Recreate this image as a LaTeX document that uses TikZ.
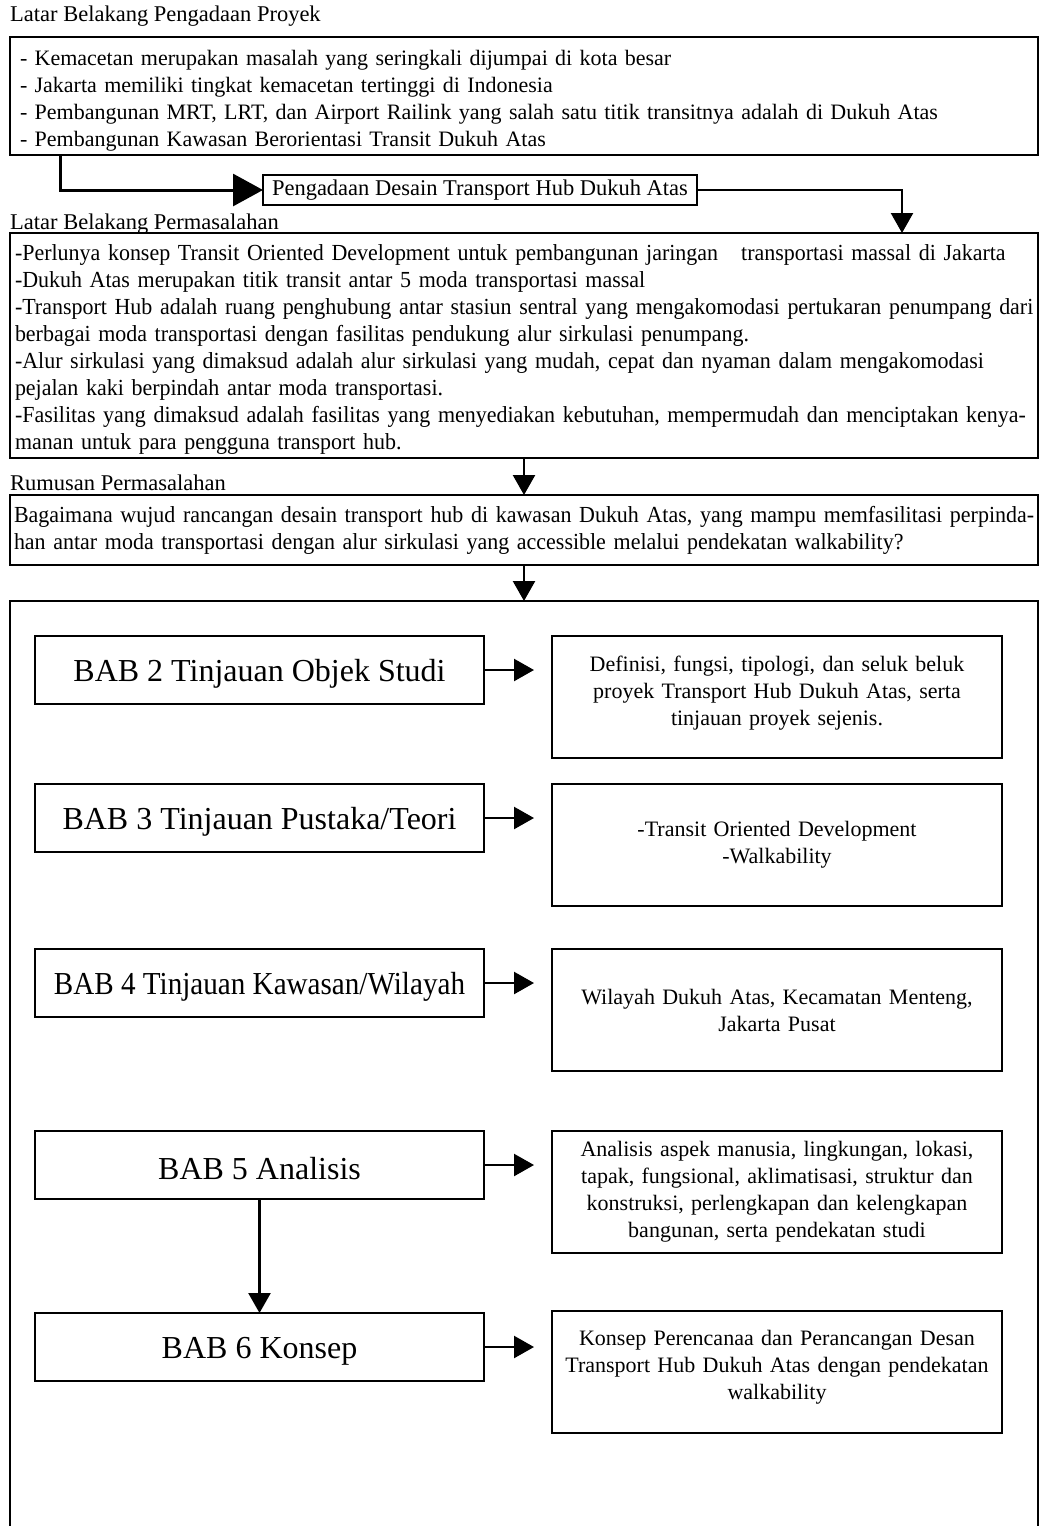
\documentclass[tikz,border=0pt]{standalone}
\usepackage{fontspec}
\setmainfont{Liberation Serif}
\newfontfamily\condserif[FakeStretch=0.955]{Liberation Serif}
\newfontfamily\narrowserif[FakeStretch=0.91]{Liberation Serif}
\usetikzlibrary{arrows.meta,calc}
\begin{document}
\begin{tikzpicture}[x=1pt,y=-1pt,
  box/.style={draw,line width=1.4pt,anchor=north west,inner ysep=0pt,outer sep=0pt},
  body/.style={font=\fontsize{22}{27}\selectfont},
  condbody/.style={font=\condserif\fontsize{23}{27}\selectfont},
  babbox/.style={box,minimum width=449pt,minimum height=68pt,inner xsep=0pt,align=center,font=\fontsize{32}{38}\selectfont,execute at begin node={\rule{0pt}{29pt}}},
  descbox/.style={box,minimum width=450pt,minimum height=122pt,text width=440pt,inner xsep=5pt,align=center,font=\fontsize{22}{27}\selectfont},
  lbl/.style={anchor=base west,inner sep=0pt,font=\fontsize{22.5}{24}\selectfont},
  conn/.style={line width=2.4pt,-{Triangle[length=20pt,width=22pt]}},
  bigconn/.style={line width=3pt,-{Triangle[length=30pt,width=32pt]}}
]
\useasboundingbox (0,0) rectangle (1043,1526);
\clip (0,0) rectangle (1043,1526);

% top section
\node[lbl] (t1) at (10,21) {Latar Belakang Pengadaan Proyek};
\node[box,body,minimum width=1028pt,minimum height=118pt,text width=1008pt,inner xsep=10pt,align=left] (b1) at (10,37)
 {\rule{0pt}{25pt}- Kemacetan merupakan masalah yang seringkali dijumpai di kota besar\\
  - Jakarta memiliki tingkat kemacetan tertinggi di Indonesia\\
  - Pembangunan MRT, LRT, dan Airport Railink yang salah satu titik transitnya adalah di Dukuh Atas\\
  - Pembangunan Kawasan Berorientasi Transit Dukuh Atas};

\node[box,font=\fontsize{22.5}{27}\selectfont,minimum width=434pt,minimum height=30pt,inner xsep=0pt] (pd) at (263,175) {Pengadaan Desain Transport Hub Dukuh Atas};

\node[lbl] (t2) at (10,229) {Latar Belakang Permasalahan};
\node[box,condbody,minimum width=1028pt,minimum height=225pt,text width=1018pt,inner xsep=5pt,align=left] (b2) at (10,233)
 {\mbox{\rule{0pt}{23pt}-Perlunya konsep Transit Oriented Development untuk pembangunan jaringan\ \ \ transportasi massal di Jakarta}\\
  \mbox{-Dukuh Atas merupakan titik transit antar 5 moda transportasi massal}\\
  \mbox{-Transport Hub adalah ruang penghubung antar stasiun sentral yang mengakomodasi pertukaran penumpang dari}\\
  \mbox{berbagai moda transportasi dengan fasilitas pendukung alur sirkulasi penumpang.}\\
  \mbox{-Alur sirkulasi yang dimaksud adalah alur sirkulasi yang mudah, cepat dan nyaman dalam mengakomodasi}\\
  \mbox{pejalan kaki berpindah antar moda transportasi.}\\
  \mbox{-Fasilitas yang dimaksud adalah fasilitas yang menyediakan kebutuhan, mempermudah dan menciptakan kenya-}\\
  \mbox{manan untuk para pengguna transport hub.}};

\node[lbl] (t3) at (10,490) {Rumusan Permasalahan};
\node[box,condbody,minimum width=1028pt,minimum height=70pt,text width=1020pt,inner xsep=4pt,align=left] (b3) at (10,495)
 {\mbox{Bagaimana wujud rancangan desain transport hub di kawasan Dukuh Atas, yang mampu memfasilitasi perpinda-}\\
  \mbox{han antar moda transportasi dengan alur sirkulasi yang accessible melalui pendekatan walkability?}};

% big frame
\node[box,minimum width=1028pt,minimum height=940pt] (frame) at (10,601) {};

% left column
\node[babbox] (k2) at (35,636) {BAB 2 Tinjauan Objek Studi};
\node[babbox] (k3) at (35,784) {BAB 3 Tinjauan Pustaka/Teori};
\node[babbox,font=\narrowserif\fontsize{32}{38}\selectfont] (k4) at (35,949) {BAB 4 Tinjauan Kawasan/Wilayah};
\node[babbox] (k5) at (35,1131) {BAB 5 Analisis};
\node[babbox] (k6) at (35,1313) {BAB 6 Konsep};

% right column
\node[descbox] (d2) at (552,636) {Definisi, fungsi, tipologi, dan seluk beluk\\ proyek Transport Hub Dukuh Atas, serta\\ tinjauan proyek sejenis.\rule[-12pt]{0pt}{1pt}};
\node[descbox] (d3) at (552,784) {-Transit Oriented Development\\ -Walkability};
\node[descbox] (d4) at (552,949) {Wilayah Dukuh Atas, Kecamatan Menteng,\\ Jakarta Pusat};
\node[descbox] (d5) at (552,1131) {Analisis aspek manusia, lingkungan, lokasi,\\ tapak, fungsional, aklimatisasi, struktur dan\\ konstruksi, perlengkapan dan kelengkapan\\ bangunan, serta pendekatan studi};
\node[descbox] (d6) at (552,1311) {Konsep Perencanaa dan Perancangan Desan\\ Transport Hub Dukuh Atas dengan pendekatan\\ walkability\rule[-14pt]{0pt}{1pt}};

% connectors
\draw[bigconn] ($(b1.south west)+(50,0)$) |- (pd.west);
\draw[conn] (pd.east) -| ($(b2.north west)+(892,0)$);
\draw[conn] (b2.south) -- (b3.north);
\draw[conn] (b3.south) -- (frame.north);
\draw[conn] (k2.east) -- ($(k2.east -| d2.west)+(-18,0)$);
\draw[conn] (k3.east) -- ($(k3.east -| d3.west)+(-18,0)$);
\draw[conn] (k4.east) -- ($(k4.east -| d4.west)+(-18,0)$);
\draw[conn] (k5.east) -- ($(k5.east -| d5.west)+(-18,0)$);
\draw[conn] (k6.east) -- ($(k6.east -| d6.west)+(-18,0)$);
\draw[conn] (k5.south) -- (k6.north);
\end{tikzpicture}
\end{document}
